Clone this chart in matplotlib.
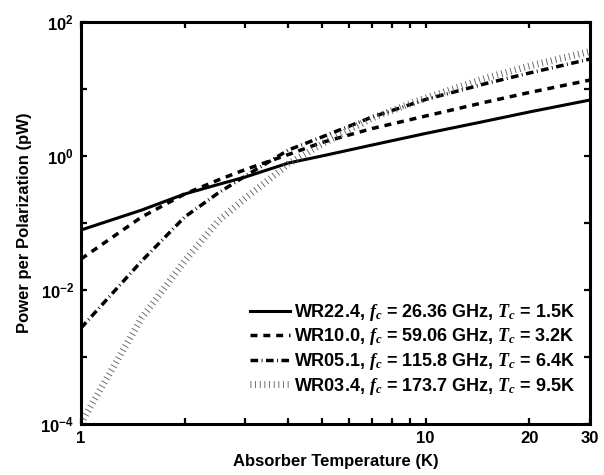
import matplotlib
matplotlib.use('Agg')
import matplotlib.pyplot as plt
from matplotlib.ticker import FixedLocator, NullFormatter

plt.rcParams['font.family'] = ['Liberation Sans', 'DejaVu Sans']
plt.rcParams['font.weight'] = 'bold'
plt.rcParams['mathtext.fontset'] = 'custom'
plt.rcParams['mathtext.rm'] = 'Liberation Sans:bold'
plt.rcParams['mathtext.bf'] = 'Liberation Sans:bold'
plt.rcParams['mathtext.it'] = 'Liberation Serif:italic'

# temperaturas del absorbedor (K) y potencia por polarizacion (pW)
temps = [1, 1.5, 2, 2.5, 3, 4, 5, 7, 10, 15, 20, 30]
p_wr224 = [0.0786, 0.156, 0.271, 0.3755, 0.486, 0.786, 1.0, 1.46, 2.17, 3.33, 4.54, 6.85]
p_wr100 = [0.0290, 0.123, 0.271, 0.438, 0.629, 1.053, 1.59, 2.57, 3.95, 6.40, 8.87, 13.6]
p_wr051 = [0.00271, 0.0271, 0.123, 0.280, 0.503, 1.23, 1.92, 3.82, 6.97, 12.1, 17.3, 28.0]
p_wr034 = [1.035e-4, 0.00382, 0.0271, 0.107, 0.236, 0.760, 1.51, 3.69, 7.34, 14.6, 22.0, 36.3]

labels = [
    'WR22.4, $f_c$ = 26.36 GHz, $T_c$ = 1.5K',
    'WR10.0, $f_c$ = 59.06 GHz, $T_c$ = 3.2K',
    'WR05.1, $f_c$ = 115.8 GHz, $T_c$ = 6.4K',
    'WR03.4, $f_c$ = 173.7 GHz, $T_c$ = 9.5K',
]

xticks = [1, 10, 20, 30]
xtick_labels = ['1', '10', '20', '30']
yticks = [1e-4, 1e-2, 1e0, 1e2]
ytick_labels = [r'$\mathbf{10^{-4}}$', r'$\mathbf{10^{-2}}$', r'$\mathbf{10^{0}}$', r'$\mathbf{10^{2}}$']

fig = plt.figure(figsize=(6.04, 4.75), dpi=100)
ax = fig.add_axes([81 / 604, 1 - 424 / 475, 509 / 604, 402 / 475])

ax.plot(temps, p_wr224, color='k', lw=2.2, label=labels[0])
ax.plot(temps, p_wr100, color='k', lw=2.5, dashes=(2.0, 1.7), label=labels[1])
ax.plot(temps, p_wr051, color='k', lw=2.5, dashes=(2.2, 1.0, 0.25, 1.0), label=labels[2])
ax.plot(temps, p_wr034, color='0.35', lw=5, dashes=(0.12, 0.55), label=labels[3])

ax.set_xscale('log')
ax.set_yscale('log')
ax.set_xlim(1, 30)
ax.set_ylim(1e-4, 1e2)

ax.xaxis.set_major_locator(FixedLocator(xticks))
ax.xaxis.set_minor_locator(FixedLocator([2, 3, 4, 5, 6, 7, 8, 9]))
ax.xaxis.set_minor_formatter(NullFormatter())
ax.set_xticklabels(xtick_labels)
ax.yaxis.set_major_locator(FixedLocator(yticks))
ax.yaxis.set_minor_locator(FixedLocator([1e-3, 1e-1, 1e1]))
ax.yaxis.set_minor_formatter(NullFormatter())
ax.set_yticklabels(ytick_labels)

for s in ax.spines.values():
    s.set_linewidth(2.2)
ax.tick_params(which='both', direction='in', top=True, right=True, width=1.6, length=4,
               labelsize=12, pad=5)

ax.set_xlabel('Absorber Temperature (K)', fontsize=12, fontweight='bold', labelpad=6)
ax.set_ylabel('Power per Polarization (pW)', fontsize=12, fontweight='bold', labelpad=6)

leg = ax.legend(loc='lower right', bbox_to_anchor=(0.985, 0.05), frameon=False,
                fontsize=13, handlelength=2.2, handletextpad=0.25, labelspacing=0.2,
                borderaxespad=0)

fig.savefig('out.png', dpi=100)
